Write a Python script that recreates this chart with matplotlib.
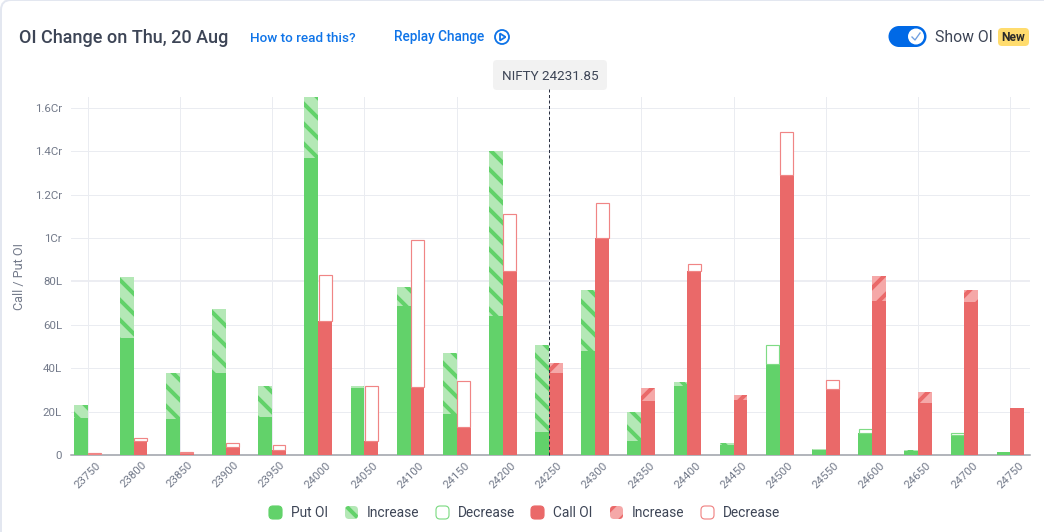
import matplotlib
matplotlib.use('Agg')
import matplotlib.pyplot as plt
from matplotlib.patches import FancyBboxPatch, Circle, Rectangle, Polygon

# values in lakh
strikes = [23750, 23800, 23850, 23900, 23950, 24000, 24050, 24100, 24150, 24200, 24250,
           24300, 24350, 24400, 24450, 24500, 24550, 24600, 24650, 24700, 24750]
put_oi = [17, 54, 16.5, 38, 17.5, 137, 31, 68.5, 19, 64, 10.5,
          48, 6.5, 32, 4.5, 42, 2.5, 10, 2, 9, 1.5]
put_inc = [6, 28, 21.5, 29.5, 14.5, 30, 1, 9, 28, 76, 40,
           28, 13.5, 1.5, 1, 0, 0.4, 0, 0.4, 0, 0]
put_dec = [0, 0, 0, 0, 0, 0, 0, 0, 0, 0, 0,
           0, 0, 0, 0, 8.5, 0, 2, 0, 1, 0]
call_oi = [0.4, 6.5, 1, 3.5, 2.5, 62, 6.5, 31.5, 13, 85, 38,
           100, 25, 85, 25.5, 129, 30.5, 71, 24, 70.5, 21.5]
call_inc = [0, 0, 0, 0, 0, 0, 0, 0, 0, 0, 4.5,
            0, 6, 0, 2, 0, 0, 11.5, 5, 5.5, 0]
call_dec = [0.4, 1.5, 0.3, 2, 2, 21, 25.5, 67.5, 21, 26, 0,
            16, 0, 3, 0, 20, 4, 0, 0, 0, 0]
y_ticks = [0, 20, 40, 60, 80, 100, 120, 140, 160]
y_labels = ['0', '20L', '40L', '60L', '80L', '1Cr', '1.2Cr', '1.4Cr', '1.6Cr']
spot_label = 'NIFTY 24231.85'
spot_index = 10

GREEN = '#62d26a'
GREEN_L = '#b4e8b6'
GREEN_E = '#7fdb85'
RED = '#ea6969'
RED_L = '#f5a8a8'
RED_E = '#f08585'
TEXT = '#3d4556'
GREY = '#737a8a'
BLUE = '#0f74e8'

W, H = 1044, 532
DPI = 120
def px(n):
    return n * 72.0 / DPI

plt.rcParams['font.family'] = ['Roboto', 'DejaVu Sans']
plt.rcParams['hatch.linewidth'] = 2.4

fig = plt.figure(figsize=(W / DPI, H / DPI), dpi=DPI, facecolor='white')

# everything that is not chart sits on a pixel overlay
bg = fig.add_axes([0, 0, 1, 1])
bg.set_xlim(0, W)
bg.set_ylim(H, 0)
bg.axis('off')
bg.add_patch(FancyBboxPatch((1, 0), 1100, 600, boxstyle='round,pad=0,rounding_size=10',
                            fc='white', ec='#e3e7f0', lw=1.2))

bg.text(19, 38, 'OI Change on Thu, 20 Aug', fontsize=px(18), fontweight=500, color=TEXT, va='center')
bg.text(250, 38.5, 'How to read this?', fontsize=px(13.5), fontweight=500, color=BLUE, va='center')
bg.text(394, 37.5, 'Replay Change', fontsize=px(13.6), fontweight=500, color=BLUE, va='center')
bg.add_patch(Circle((502, 37), 7, fc='white', ec=BLUE, lw=1.1))
bg.add_patch(Polygon([(500, 33.5), (500, 40.5), (505.5, 37)], closed=True, fc='white', ec=BLUE, lw=1.1))

bg.add_patch(Rectangle((899, 26), 17, 21, fc='#0069e6', ec='none'))
bg.add_patch(Circle((899, 36.5), 10.5, fc='#0069e6', ec='none'))
bg.add_patch(Circle((916, 36.5), 10.5, fc='#0069e6', ec='none'))
bg.add_patch(Circle((916, 36.5), 8, fc='white', ec='none'))
bg.plot([912, 915, 920], [37, 40, 33], color='#6f9fe0', lw=0.8)
bg.text(935, 38, 'Show OI', fontsize=px(15.8), color=TEXT, va='center')
bg.add_patch(FancyBboxPatch((998, 28), 31, 18, boxstyle='round,pad=0,rounding_size=4',
                            fc='#ffdc6e', ec='none'))
bg.text(1013.5, 37.5, 'New', fontsize=px(12), fontweight='bold', color='#2b2b2b', va='center', ha='center')

bg.add_patch(FancyBboxPatch((493, 60), 114, 30, boxstyle='round,pad=0,rounding_size=4',
                            fc='#f2f2f2', ec='none'))
bg.text(550, 76, spot_label, fontsize=px(13.5), color=TEXT, va='center', ha='center')
bg.text(19.5, 277, 'Call / Put OI', fontsize=px(12.6), color=GREY, va='center', ha='center', rotation=90)

# chart
ax = fig.add_axes([71.0 / W, 1 - 455.0 / H, 959.0 / W, 358.0 / H])
ax.patch.set_alpha(0)
bar_w = 0.3
x = list(range(len(strikes)))

def stack(pos, base, inc, dec, solid, light, edge, hatch):
    ax.bar(pos, base, bar_w, color=solid, linewidth=0, zorder=3)
    ax.bar(pos, inc, bar_w, bottom=base, facecolor=light, edgecolor=solid, hatch=hatch, linewidth=0, zorder=3)
    for p, b, d in zip(pos, base, dec):
        if d > 0:
            ax.bar(p, d, bar_w - 0.02, bottom=b, facecolor='white', edgecolor=edge, linewidth=0.7, zorder=3)

stack([i - bar_w / 2 for i in x], put_oi, put_inc, put_dec, GREEN, GREEN_L, GREEN_E, '\\\\')
stack([i + bar_w / 2 for i in x], call_oi, call_inc, call_dec, RED, RED_L, RED_E, '//')

ax.set_xlim(-16.5 / 46.15, 942.5 / 46.15)
ax.set_ylim(0, 165.05)
ax.set_yticks(y_ticks)
ax.set_yticklabels(y_labels, fontsize=px(11.5), color=GREY)
ax.set_xticks(x)
ax.set_xticklabels(strikes, fontsize=px(11.5), color=GREY, rotation=45, ha='center')
ax.tick_params(axis='both', length=0)
ax.tick_params(axis='y', pad=px(9))
ax.tick_params(axis='x', pad=px(5))
for s in ['top', 'right', 'left']:
    ax.spines[s].set_visible(False)
ax.spines['bottom'].set_color('#9a9ea6')
ax.spines['bottom'].set_linewidth(px(1.5))
ax.set_axisbelow(True)
ax.grid(axis='y', color='#eaecf1', lw=px(1))
ax.get_ygridlines()[4].set_linewidth(px(1.8))
for i in x[::2]:
    ax.axvline(i, color='#eaecf1', lw=px(1), zorder=1)
ax.vlines(spot_index, 0, 169, color='#2a3040', lw=px(1), linestyles=(0, (3, 2.5)), zorder=5, clip_on=False)

# legend, drawn by hand for the rounded swatches
legend_names = ['Put OI', 'Increase', 'Decrease', 'Call OI', 'Increase', 'Decrease']
legend_x = [269, 345, 436, 531, 610, 701]
legend_text_x = [291, 367, 458, 553, 632, 723]
legend_style = [dict(fc=GREEN, ec=GREEN), dict(fc=GREEN_L, ec=GREEN, hatch='\\\\'), dict(fc='white', ec=GREEN_E),
                dict(fc=RED, ec=RED), dict(fc=RED_L, ec=RED, hatch='//'), dict(fc='white', ec=RED_E)]
for lx, tx, name, st in zip(legend_x, legend_text_x, legend_names, legend_style):
    lw = 0 if 'hatch' in st else 0.7
    bg.add_patch(FancyBboxPatch((lx, 506), 13, 13, boxstyle='round,pad=0,rounding_size=4', lw=lw, **st))
    bg.text(tx, 513, name, fontsize=px(13.7), color=TEXT, va='center')

fig.savefig('out.png', dpi=DPI)
